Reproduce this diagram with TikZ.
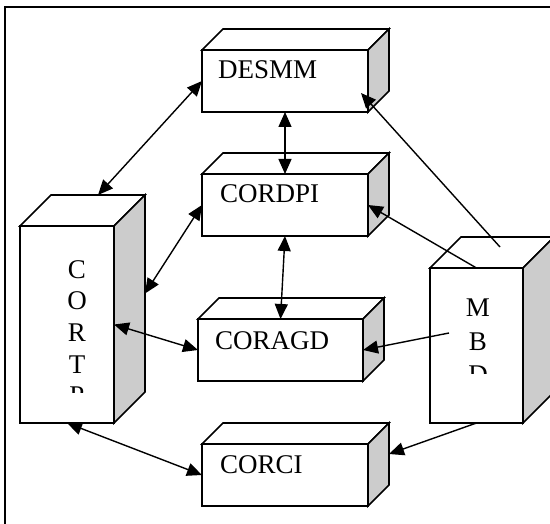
\documentclass[tikz,border=0pt]{standalone}
\usepackage{fontspec}
\setmainfont{Liberation Serif}
\usetikzlibrary{arrows.meta}
\definecolor{sidegray}{RGB}{204,204,204}
\tikzset{
  frontface/.style={draw, line width=1.6pt, fill=white, inner sep=0pt, outer sep=0pt},
  topface/.style={draw, line width=1.6pt, fill=white, line join=miter},
  sideface/.style={draw, line width=1.6pt, fill=sidegray, line join=miter},
  lbl/.style={inner sep=0pt, font=\fontsize{27}{32}\selectfont},
  conn/.style={line width=1.4pt, -{Triangle[length=15pt,width=13pt]}},
  dconn/.style={line width=1.4pt, {Triangle[length=15pt,width=13pt]}-{Triangle[length=15pt,width=13pt]}},
}
\newcommand\mycuboid[6]{%
  \node[frontface, minimum width=#4pt, minimum height=#5pt, anchor=north west] (#1) at (#2,#3) {};
  \draw[topface] (#1.north west) -- ++(#6,-#6) -- ++(#4,0) -- (#1.north east) -- cycle;
  \draw[sideface] (#1.north east) -- ++(#6,-#6) -- ++(0,#5) -- (#1.south east) -- cycle;
}
\begin{document}
\begin{tikzpicture}[x=1pt,y=-1pt]
\useasboundingbox (0,0) rectangle (550,524);
\clip (0,0) rectangle (550,524);
% frame
\draw[line width=1.5pt] (5,600) -- (5,7) -- (600,7);
% boxes
\mycuboid{desmm}{202}{50}{166}{62}{21}
\mycuboid{cordpi}{202}{174}{166}{62}{21}
\mycuboid{coragd}{198}{319}{165}{62}{21}
\mycuboid{corci}{202}{444}{166}{62}{21}
\mycuboid{cortp}{20}{226}{94}{197}{31}
\mycuboid{mbd}{430}{268}{93}{155}{31}
% labels
\node[lbl, anchor=base west] (t-desmm) at (218,79) {DESMM};
\node[lbl, anchor=base west] (t-cordpi) at (220,203) {CORDPI};
\node[lbl, anchor=base west] (t-coragd) at (215,350) {CORAGD};
\node[lbl, anchor=base west] (t-corci) at (220,474) {CORCI};
\begin{scope}
  \clip (20,230) rectangle (114,393);
  \node[lbl, align=center, anchor=north, font=\fontsize{27}{31.7}\selectfont] (t-cortp) at (77,260) {C\\O\\R\\T\\P};
\end{scope}
\begin{scope}
  \clip (430,270) rectangle (523,374);
  \node[lbl, align=center, anchor=north, font=\fontsize{27}{33.5}\selectfont] (t-mbd) at (478,299) {M\\B\\D};
\end{scope}
% connectors
\coordinate (m7) at (500,247);
\coordinate (m9) at (449,333);
\coordinate (d7) at ([shift={(-7,43)}]desmm.north east);
\draw[dconn] (desmm.west) -- ([shift={(31,-31)}]cortp.north);
\draw[dconn] (desmm.south) -- (cordpi.north);
\draw[dconn] (cordpi.west) -- ([shift={(31,-31)}]cortp.east);
\draw[dconn] (cordpi.south) -- (coragd.north);
\draw[dconn] (coragd.west) -- (cortp.east);
\draw[dconn] (corci.west) -- (cortp.south);
\draw[conn] (m7) -- (d7);
\draw[conn] (mbd.north) -- (cordpi.east);
\draw[conn] (m9) -- (coragd.east);
\draw[conn] (mbd.south) -- ([shift={(21,-21)}]corci.east);
\end{tikzpicture}
\end{document}
